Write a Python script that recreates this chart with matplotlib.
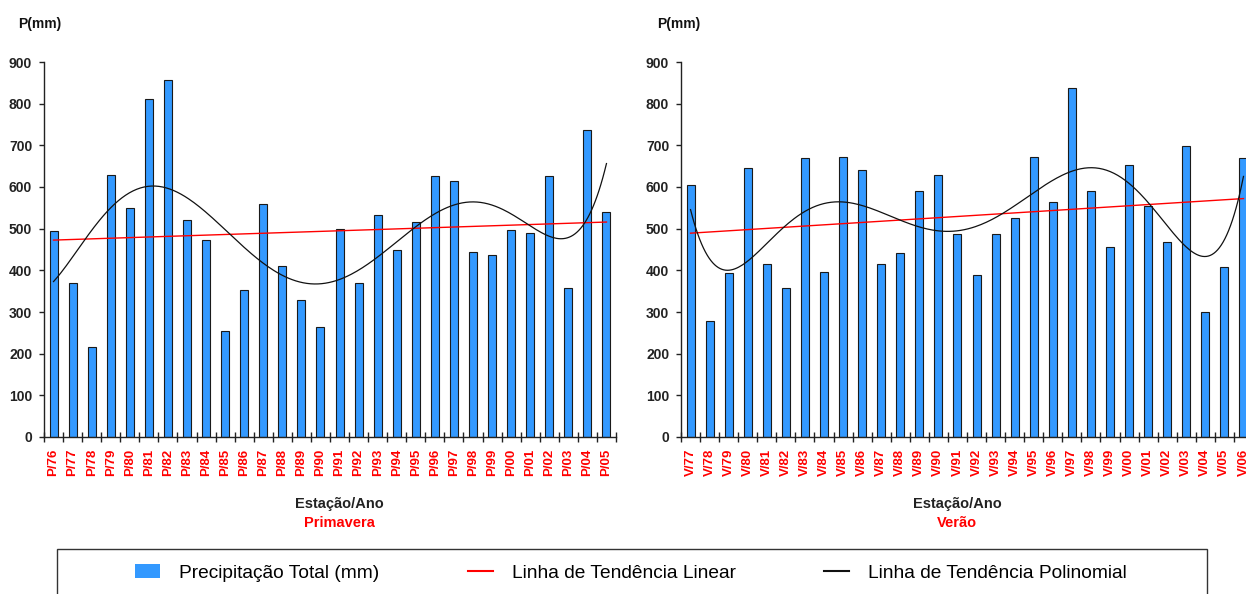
import numpy as np
import matplotlib
matplotlib.use('Agg')
import matplotlib.pyplot as plt
from matplotlib.patches import Patch, Rectangle
from matplotlib.lines import Line2D

# DATA
primavera_labels = ['P/76', 'P/77', 'P/78', 'P/79', 'P/80', 'P/81', 'P/82', 'P/83', 'P/84', 'P/85',
                    'P/86', 'P/87', 'P/88', 'P/89', 'P/90', 'P/91', 'P/92', 'P/93', 'P/94', 'P/95',
                    'P/96', 'P/97', 'P/98', 'P/99', 'P/00', 'P/01', 'P/02', 'P/03', 'P/04', 'P/05']
primavera_mm = [494, 370, 217, 628, 549, 812, 856, 522, 472, 255,
                354, 559, 411, 330, 264, 499, 370, 533, 450, 516,
                626, 614, 445, 436, 497, 489, 626, 357, 736, 540]

verao_labels = ['V/77', 'V/78', 'V/79', 'V/80', 'V/81', 'V/82', 'V/83', 'V/84', 'V/85', 'V/86',
                'V/87', 'V/88', 'V/89', 'V/90', 'V/91', 'V/92', 'V/93', 'V/94', 'V/95', 'V/96',
                'V/97', 'V/98', 'V/99', 'V/00', 'V/01', 'V/02', 'V/03', 'V/04', 'V/05', 'V/06']
verao_mm = [605, 279, 394, 646, 416, 358, 670, 397, 673, 641,
            416, 441, 591, 630, 487, 389, 487, 526, 673, 564,
            838, 591, 457, 652, 555, 468, 698, 301, 408, 670]

POLY_DEG = 6
BAR_COLOR = '#3399FF'
NARROW = ['Liberation Sans Narrow', 'Liberation Sans', 'DejaVu Sans']
W, H = 1246, 594

fig = plt.figure(figsize=(W / 100, H / 100), dpi=100)


def px_axes(x0, x1, y_top, y_bot):
    return fig.add_axes([x0 / W, 1 - y_bot / H, (x1 - x0) / W, (y_bot - y_top) / H])


def draw_panel(ax, labels, vals):
    n = len(vals)
    x = np.arange(n)
    v = np.array(vals, dtype=float)
    ax.bar(x, v, width=0.42, color=BAR_COLOR, edgecolor='#1a1a1a', linewidth=0.8, zorder=2)

    # trend lines (fitted over the bar values)
    xf = np.linspace(0, n - 1, 300)
    lin = np.polyval(np.polyfit(x, v, 1), xf)
    pol = np.polyval(np.polyfit(x, v, POLY_DEG), xf)
    ax.plot(xf, lin, color='#FF0000', linewidth=1.0, zorder=3)
    ax.plot(xf, pol, color='#111111', linewidth=0.9, zorder=3)

    ax.set_xlim(-0.5, n - 0.5)
    ax.set_ylim(0, 900)
    ax.set_yticks(range(0, 901, 100))
    ax.set_xticks(x)
    ax.set_xticklabels(labels, rotation=90, color='#FF0000', fontweight='bold',
                       fontsize=9.5, family=NARROW)
    ax.set_xticks(np.arange(n + 1) - 0.5, minor=True)
    ax.tick_params(axis='x', which='major', length=0, pad=8.5)
    ax.tick_params(axis='x', which='minor', direction='inout', length=7, width=1, color='#222222')
    ax.tick_params(axis='y', direction='out', length=3.5, width=1, color='#222222', pad=5)
    for t in ax.get_yticklabels():
        t.set_fontweight('bold')
        t.set_fontsize(10)
        t.set_family(NARROW)
        t.set_color('#222222')
    for s in ['top', 'right']:
        ax.spines[s].set_visible(False)
    for s in ['left', 'bottom']:
        ax.spines[s].set_color('#222222')
        ax.spines[s].set_linewidth(1)


ax1 = px_axes(44, 616, 62, 437)
draw_panel(ax1, primavera_labels, primavera_mm)
ax2 = px_axes(681, 1253, 62, 437)
draw_panel(ax2, verao_labels, verao_mm)

# titles / axis captions
for xc in (40, 679):
    fig.text(xc / W, 1 - 24 / H, 'P(mm)', ha='center', va='center',
             fontsize=10, fontweight='bold', family=NARROW, color='#111111')
for xc, season in ((339, 'Primavera'), (957, 'Verão')):
    fig.text(xc / W, 1 - 504 / H, 'Estação/Ano', ha='center', va='center',
             fontsize=10.5, fontweight='bold', family=NARROW, color='#222222')
    fig.text(xc / W, 1 - 523 / H, season, ha='center', va='center',
             fontsize=10.5, fontweight='bold', family=NARROW, color='#FF0000')

# legend box
fig.patches.append(Rectangle((57 / W, -0.1), (1207 - 57) / W, 0.1 + (H - 549) / H,
                             transform=fig.transFigure, fill=False,
                             edgecolor='#333333', linewidth=1))
handles = [Patch(facecolor=BAR_COLOR, edgecolor='none'),
           Line2D([], [], color='#FF0000', linewidth=1.5),
           Line2D([], [], color='#111111', linewidth=1.5)]
names = ['Precipitação Total (mm)', 'Linha de Tendência Linear', 'Linha de Tendência Polinomial']
fig.legend(handles, names, loc='center', bbox_to_anchor=(631 / W, 1 - 573 / H), ncol=3,
           frameon=False, prop={'family': 'Liberation Sans', 'size': 13.8},
           handlelength=1.3, handletextpad=1.0, columnspacing=4.6)

fig.savefig('out.png', dpi=100)
